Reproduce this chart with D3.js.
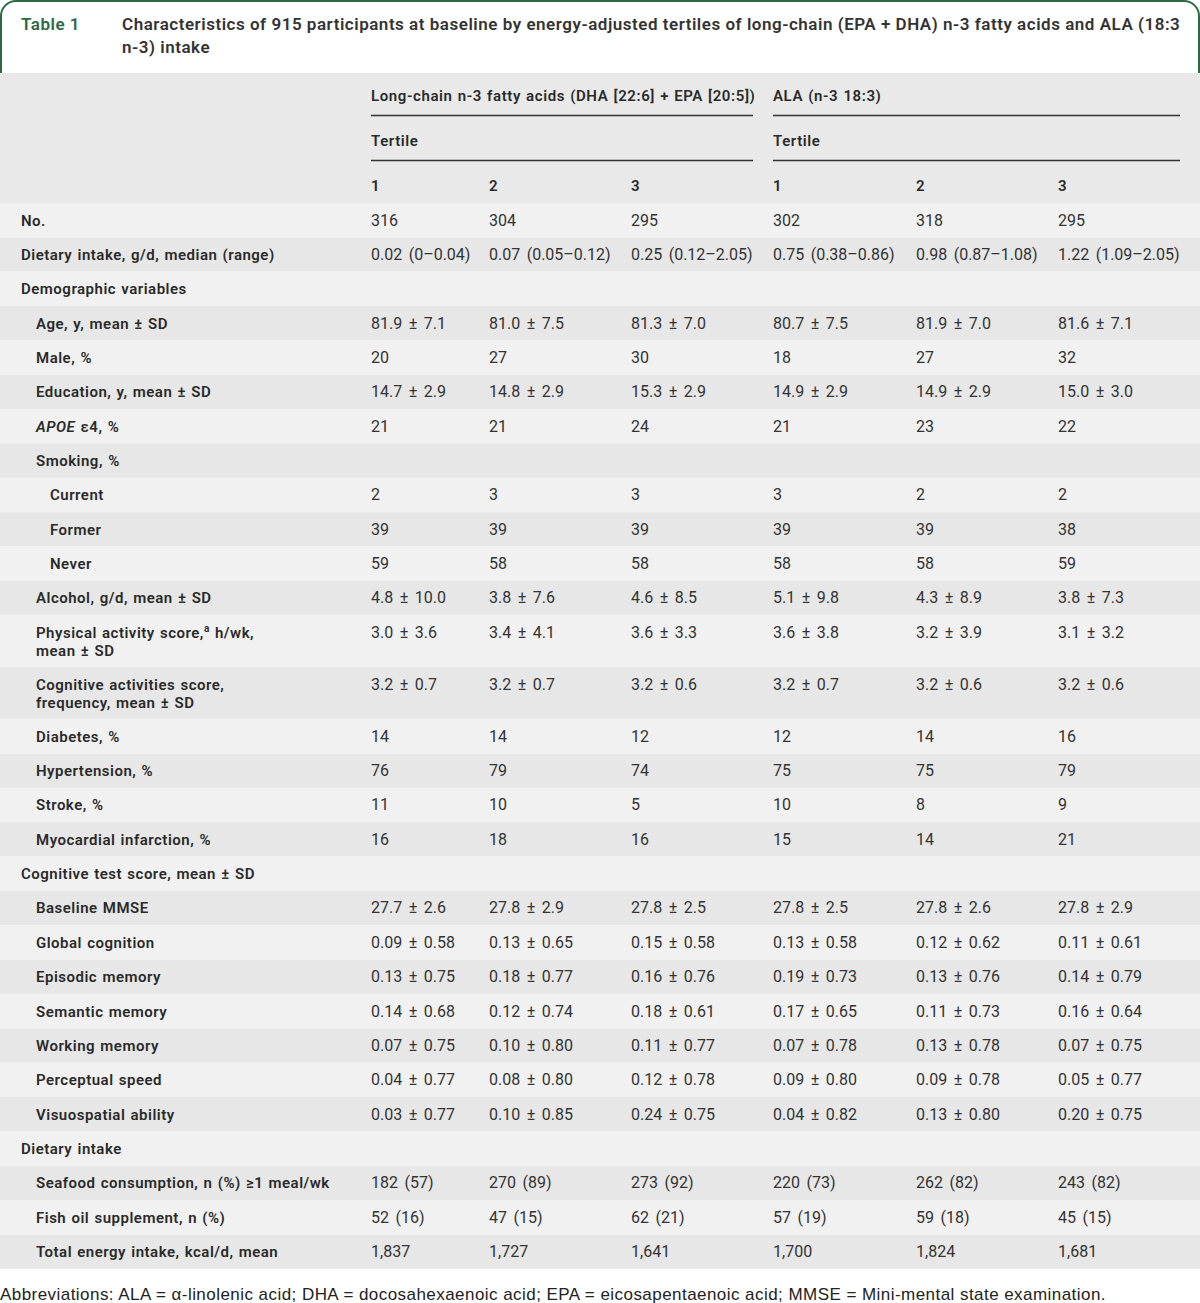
<!DOCTYPE html>
<html><head><meta charset="utf-8">
<script src="https://cdn.jsdelivr.net/npm/d3@7"></script>
<style>body{margin:0;background:#fff}svg{display:block}</style>
</head><body>
<svg id="chart" width="1200" height="1303"></svg>
<script>
// ---------- data ----------
const tableNumber = "Table 1";
const titleLines = ["Characteristics of 915 participants at baseline by energy-adjusted tertiles of long-chain (EPA + DHA) n-3 fatty acids and ALA (18:3",
                    "n-3) intake"];
const groupHeaders = ["Long-chain n-3 fatty acids (DHA [22:6] + EPA [20:5])", "ALA (n-3 18:3)"];
const subHeader = "Tertile";
const tertileLabels = ["1", "2", "3", "1", "2", "3"];

const rowLabels = [
  "No.", "Dietary intake, g/d, median (range)", "Demographic variables",
  "Age, y, mean ± SD", "Male, %", "Education, y, mean ± SD", "APOE ε4, %",
  "Smoking, %", "Current", "Former", "Never", "Alcohol, g/d, mean ± SD",
  "Physical activity score,ª h/wk,|mean ± SD", "Cognitive activities score,|frequency, mean ± SD",
  "Diabetes, %", "Hypertension, %", "Stroke, %", "Myocardial infarction, %",
  "Cognitive test score, mean ± SD", "Baseline MMSE", "Global cognition", "Episodic memory",
  "Semantic memory", "Working memory", "Perceptual speed", "Visuospatial ability",
  "Dietary intake", "Seafood consumption, n (%) ≥1 meal/wk", "Fish oil supplement, n (%)",
  "Total energy intake, kcal/d, mean"
];
const rowLevels = [0,0,0, 1,1,1,1, 1,2,2,2,1, 1,1, 1,1,1,1, 0,1,1,1,1,1,1,1, 0,1,1,1];

const longChainT1 = ["316","0.02 (0–0.04)","","81.9 ± 7.1","20","14.7 ± 2.9","21","","2","39","59","4.8 ± 10.0","3.0 ± 3.6","3.2 ± 0.7","14","76","11","16","","27.7 ± 2.6","0.09 ± 0.58","0.13 ± 0.75","0.14 ± 0.68","0.07 ± 0.75","0.04 ± 0.77","0.03 ± 0.77","","182 (57)","52 (16)","1,837"];
const longChainT2 = ["304","0.07 (0.05–0.12)","","81.0 ± 7.5","27","14.8 ± 2.9","21","","3","39","58","3.8 ± 7.6","3.4 ± 4.1","3.2 ± 0.7","14","79","10","18","","27.8 ± 2.9","0.13 ± 0.65","0.18 ± 0.77","0.12 ± 0.74","0.10 ± 0.80","0.08 ± 0.80","0.10 ± 0.85","","270 (89)","47 (15)","1,727"];
const longChainT3 = ["295","0.25 (0.12–2.05)","","81.3 ± 7.0","30","15.3 ± 2.9","24","","3","39","58","4.6 ± 8.5","3.6 ± 3.3","3.2 ± 0.6","12","74","5","16","","27.8 ± 2.5","0.15 ± 0.58","0.16 ± 0.76","0.18 ± 0.61","0.11 ± 0.77","0.12 ± 0.78","0.24 ± 0.75","","273 (92)","62 (21)","1,641"];
const alaT1 = ["302","0.75 (0.38–0.86)","","80.7 ± 7.5","18","14.9 ± 2.9","21","","3","39","58","5.1 ± 9.8","3.6 ± 3.8","3.2 ± 0.7","12","75","10","15","","27.8 ± 2.5","0.13 ± 0.58","0.19 ± 0.73","0.17 ± 0.65","0.07 ± 0.78","0.09 ± 0.80","0.04 ± 0.82","","220 (73)","57 (19)","1,700"];
const alaT2 = ["318","0.98 (0.87–1.08)","","81.9 ± 7.0","27","14.9 ± 2.9","23","","2","39","58","4.3 ± 8.9","3.2 ± 3.9","3.2 ± 0.6","14","75","8","14","","27.8 ± 2.6","0.12 ± 0.62","0.13 ± 0.76","0.11 ± 0.73","0.13 ± 0.78","0.09 ± 0.78","0.13 ± 0.80","","262 (82)","59 (18)","1,824"];
const alaT3 = ["295","1.22 (1.09–2.05)","","81.6 ± 7.1","32","15.0 ± 3.0","22","","2","38","59","3.8 ± 7.3","3.1 ± 3.2","3.2 ± 0.6","16","79","9","21","","27.8 ± 2.9","0.11 ± 0.61","0.14 ± 0.79","0.16 ± 0.64","0.07 ± 0.75","0.05 ± 0.77","0.20 ± 0.75","","243 (82)","45 (15)","1,681"];

const footnote = "Abbreviations: ALA = α-linolenic acid; DHA = docosahexaenoic acid; EPA = eicosapentaenoic acid; MMSE = Mini-mental state examination.";

// ---------- layout ----------
const W = 1200;
const svg = d3.select("#chart");
const font = "Roboto, 'Open Sans', sans-serif";
const green = "#2c6a45";
const dark = "#e6e7e6", light = "#f1f1f1";
const textCol = "#2a2a2a";

const columns = [longChainT1, longChainT2, longChainT3, alaT1, alaT2, alaT3];
const colX = d3.scaleOrdinal().domain(d3.range(6)).range([371, 489, 631, 773, 916, 1058]);
const indentX = d3.scaleOrdinal().domain([0,1,2]).range([21, 36, 50]);

const headerTop = 73, bodyTop = 203;
const singleH = 34.35, lineGap = 18;
const rowsInfo = [];
let yCur = bodyTop;
rowLabels.forEach((lab, i) => {
  const lines = lab.split("|");
  const h = lines.length > 1 ? 52 : singleH;
  rowsInfo.push({i, lines, level: rowLevels[i], y: yCur, h});
  yCur += h;
});
const bodyBottom = yCur;

// title box
svg.append("rect").attr("x", 0).attr("y", headerTop).attr("width", W).attr("height", bodyTop - headerTop).attr("fill", "#e8e9e8");
svg.append("path")
  .attr("d", `M1,${headerTop} V16 A15,15 0 0 1 16,1 H1184 A15,15 0 0 1 1199,16 V${headerTop}`)
  .attr("fill", "none").attr("stroke", green).attr("stroke-width", 2);
svg.append("text").attr("x", 21).attr("y", 30).attr("fill", green)
  .style("font", `600 17px ${font}`).style("letter-spacing", "0.5px").text(tableNumber);
svg.selectAll("text.title").data(titleLines).join("text").attr("class", "title")
  .attr("x", 122).attr("y", (d, i) => 30 + i * 23).attr("fill", "#333")
  .style("font", `600 17px ${font}`).style("letter-spacing", "0.52px").text(d => d);

// header
const headG = svg.append("g").style("font", `600 15px ${font}`).attr("fill", textCol)
  .style("letter-spacing", "0.6px").style("word-spacing", "0.8px");
const groupSpans = [[0, 753], [3, 1180]];
groupHeaders.forEach((g, k) => {
  const x0 = colX(groupSpans[k][0]), x1 = groupSpans[k][1];
  headG.append("text").attr("x", x0).attr("y", 101).text(g);
  headG.append("text").attr("x", x0).attr("y", 146).text(subHeader);
  [115.5, 160.5].forEach(yy => headG.append("line").attr("x1", x0).attr("x2", x1).attr("y1", yy).attr("y2", yy)
    .attr("stroke", "#333").attr("stroke-width", 1.3));
});
tertileLabels.forEach((t, j) => headG.append("text").attr("x", colX(j)).attr("y", 190.5).text(t));

// body rows
const rowG = svg.selectAll("g.row").data(rowsInfo).join("g").attr("class", "row")
  .attr("transform", d => `translate(0,${d.y})`);
rowG.append("rect").attr("width", W).attr("height", d => d.h).attr("fill", d => d.i % 2 === 0 ? light : dark);

rowG.each(function(d) {
  const g = d3.select(this);
  d.lines.forEach((ln, li) => {
    const t = g.append("text").attr("x", indentX(d.level)).attr("y", 22.5 + li * lineGap)
      .attr("fill", textCol).style("font", `600 15px ${font}`)
      .style("letter-spacing", "0.5px").style("word-spacing", "1px");
    if (ln.startsWith("APOE")) {
      t.append("tspan").style("font-style", "italic").text("APOE");
      t.append("tspan").text(ln.slice(4));
    } else if (ln.includes("ª")) {
      const parts = ln.split("ª");
      t.append("tspan").text(parts[0]);
      t.append("tspan").attr("dy", -6).style("font-size", "10px").text("a");
      t.append("tspan").attr("dy", 6).text(parts[1]);
    } else t.text(ln);
  });
  columns.forEach((col, j) => {
    g.append("text").attr("x", colX(j)).attr("y", 22.5).attr("fill", "#333")
      .style("font", `400 16px ${font}`).style("word-spacing", "2.5px").text(col[d.i]);
  });
});

// footnote
svg.append("text").attr("x", 0).attr("y", bodyBottom + 31).attr("fill", "#222")
  .style("font", "400 17px 'Liberation Sans', Arial, sans-serif").style("letter-spacing", "0.45px").text(footnote);
</script>
</body></html>
